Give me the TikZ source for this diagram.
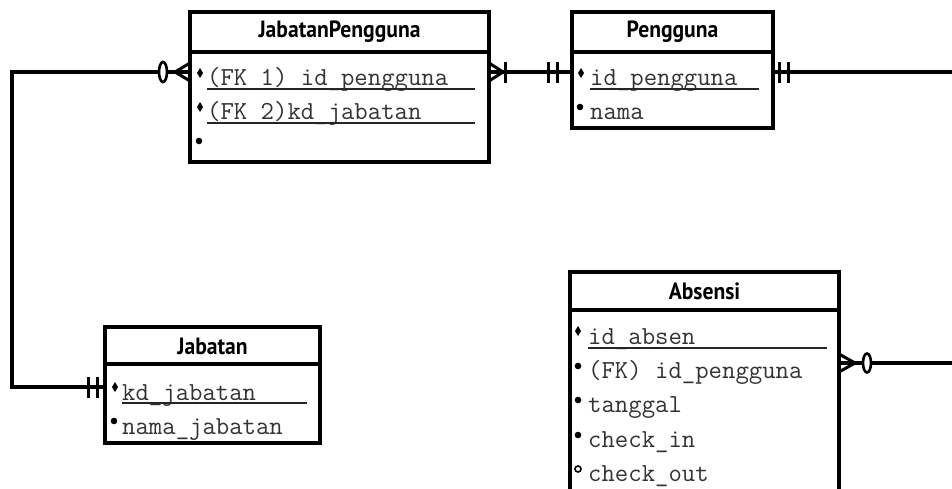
\documentclass[tikz,border=0pt]{standalone}
\usepackage{fontspec}
\newfontfamily\titlef{PT Sans}
\tikzset{
  entity/.style={draw, line width=3.5pt, rectangle, anchor=north west, inner sep=0pt, outer sep=0pt},
  etitle/.style={font=\titlef\bfseries\fontsize{23.5}{23.5}\selectfont, inner sep=0pt, xscale=0.92},
  attr/.style={font=\ttfamily\fontsize{26}{26}\selectfont, text=black!80, anchor=base west, inner sep=0pt},
  uline/.style={line width=2pt, black!85},
  conn/.style={line width=3.2pt},
  tickln/.style={line width=3pt},
  oval/.style={line width=2.6pt},
}
\newcommand\bdia[1]{\fill #1 +(0,-5) -- +(3,0) -- +(0,5) -- +(-3,0) -- cycle;}
\newcommand\bdot[1]{\fill #1 circle (3.3);}
\newcommand\bring[1]{\draw[line width=1.6pt] #1 circle (3);}
\begin{document}
\begin{tikzpicture}[x=1pt,y=-1pt]
\useasboundingbox (0,0) rectangle (952,489);
\clip (0,0) rectangle (952,489);
\fill[white] (0,0) rectangle (952,489);

% ---------- JabatanPengguna
\node[entity, minimum width=299pt, minimum height=150pt] (jp) at (190,12) {};
\draw[line width=3.5pt] (jp.west |- 0,52) -- (jp.east |- 0,52);
\node[etitle] (jpt) at (339.5,32) {JabatanPengguna};
\node[attr] (jpa1) at (207,86) {(FK 1) id\_pengguna};
\node[attr] (jpa2) at (207,120) {(FK 2)kd\_jabatan};
\draw[uline] (207,89) -- (475,89);
\draw[uline] (207,123) -- (475,123);
\bdia{(200,73)}
\bdia{(200,107)}
\bdot{(199,141)}

% ---------- Pengguna
\node[entity, minimum width=201pt, minimum height=116pt] (pg) at (572,12) {};
\draw[line width=3.5pt] (pg.west |- 0,52) -- (pg.east |- 0,52);
\node[etitle] (pgt) at (672.5,32) {Pengguna};
\node[attr] (pga1) at (590,86) {id\_pengguna};
\node[attr] (pga2) at (590,120) {nama};
\draw[uline] (590,89) -- (759,89);
\bdia{(581,73)}
\bdot{(580,107)}

% ---------- Jabatan
\node[entity, minimum width=215pt, minimum height=116pt] (jb) at (105,327) {};
\draw[line width=3.5pt] (jb.west |- 0,364) -- (jb.east |- 0,364);
\node[etitle] (jbt) at (212.5,346) {Jabatan};
\node[attr] (jba1) at (122,400) {kd\_jabatan};
\node[attr] (jba2) at (122,434) {nama\_jabatan};
\draw[uline] (122,403) -- (307,403);
\bdia{(115,387)}
\bdot{(114,421)}

% ---------- Absensi
\node[entity, minimum width=269pt, minimum height=240pt] (ab) at (570,272) {};
\draw[line width=3.5pt] (ab.west |- 0,310) -- (ab.east |- 0,310);
\node[etitle] (abt) at (704.5,291) {Absensi};
\node[attr] (aba1) at (588,344) {id\_absen};
\node[attr] (aba2) at (588,378) {(FK) id\_pengguna};
\node[attr] (aba3) at (588,412.5) {tanggal};
\node[attr] (aba4) at (588,447) {check\_in};
\node[attr] (aba5) at (588,481.5) {check\_out};
\draw[uline] (588,347.5) -- (827,347.5);
\bdia{(578,331)}
\bdot{(578,366)}
\bdot{(578,400)}
\bdot{(578,435)}
\bring{(578,469)}

% ---------- connectors
\coordinate (pgout) at (960,72);
\coordinate (about) at (960,363);
\coordinate (bendtop) at (12,72);

% JabatanPengguna -- Pengguna
\draw[conn] (jp.east |- 0,72) -- (pg.west |- 0,72);
\draw[tickln] (jp.east |- 0,63) -- (503,72) -- (jp.east |- 0,81);
\draw[tickln] (505,62) -- (505,83);
\draw[tickln] (548,62) -- (548,83);
\draw[tickln] (557,62) -- (557,83);

% Pengguna -- right
\draw[conn] (pg.east |- 0,72) -- (pgout);
\draw[tickln] (779,62) -- (779,83);
\draw[tickln] (788,62) -- (788,83);

% JabatanPengguna -- Jabatan
\draw[conn] (jp.west |- 0,72) -- (167,72);
\draw[conn] (159,72) -- (bendtop) |- (jb.west |- 0,387);
\draw[tickln] (jp.west |- 0,63) -- (175,72) -- (jp.west |- 0,81);
\draw[oval] (163,72) ellipse (4 and 10);
\draw[tickln] (88,377) -- (88,398);
\draw[tickln] (97,377) -- (97,398);

% Absensi -- right
\draw[conn] (ab.east |- 0,363) -- (863,363);
\draw[conn] (871,363) -- (about);
\draw[tickln] (ab.east |- 0,354) -- (855,363) -- (ab.east |- 0,372);
\draw[oval] (867,363) ellipse (4 and 9.5);
\end{tikzpicture}
\end{document}
